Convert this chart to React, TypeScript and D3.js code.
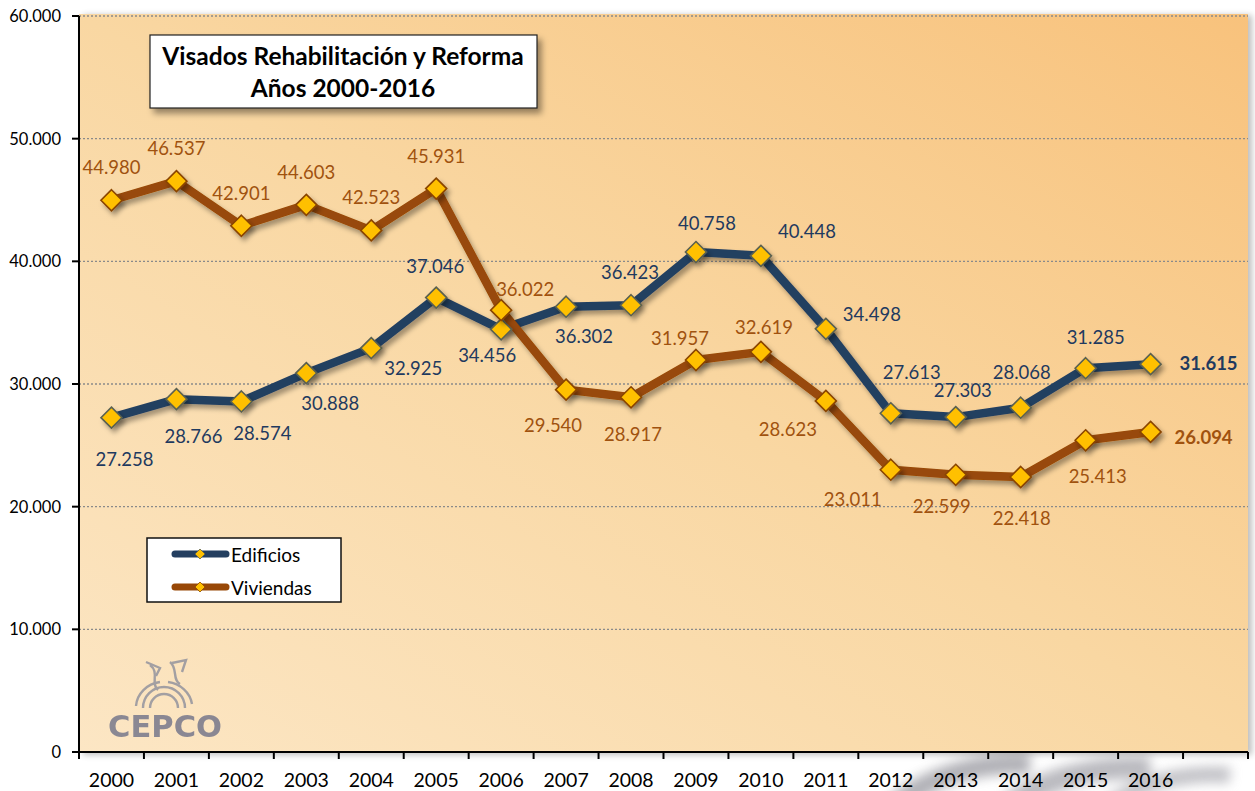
import React from "react";
import * as d3 from "d3";

const years = ["2000","2001","2002","2003","2004","2005","2006","2007","2008","2009","2010","2011","2012","2013","2014","2015","2016"];
const edificios = [27258,28766,28574,30888,32925,37046,34456,36302,36423,40758,40448,34498,27613,27303,28068,31285,31615];
const viviendas = [44980,46537,42901,44603,42523,45931,36022,29540,28917,31957,32619,28623,23011,22599,22418,25413,26094];
const yTicks = [0,10000,20000,30000,40000,50000,60000];
const seriesNames = ["Edificios","Viviendas"];

// label placement offsets (dx, dy) relative to each point
const edifLabelOffsets: [number, number][] = [
  [13,41],[17,37],[21,32],[24,30],[42,20],[-1,-32],[-14,26],[18,29],[-1,-33],[11,-29],[46,-25],[46,-15],[21,-41],[7,-27],[1,-36],[10,-31],[58,-1]
];
const vivLabelOffsets: [number, number][] = [
  [0,-33],[0,-33],[0,-33],[0,-33],[0,-33],[0,-33],[24,-21],[-13,35],[2,37],[-16,-22],[3,-25],[-38,28],[-38,29],[-14,31],[1,41],[12,36],[53,5]
];

const W = 1255, H = 791;
const M = { left: 79, right: 1248, top: 16, bottom: 752 };
const EDIF = "#243f60";
const VIV = "#984807";
const EDIF_TXT = "#1f3a5f";
const VIV_TXT = "#a0520f";
const FONT = "Lato, 'Open Sans', sans-serif";

const fmt = (v: number) => d3.format(",")(v).replace(/,/g, ".");

export default function App() {
  const x = d3.scaleBand<string>().domain([...years, ""]).range([M.left, M.right]).padding(0);
  const y = d3.scaleLinear().domain([0, 60000]).range([M.bottom, M.top]);
  const cx = (yr: string) => (x(yr) as number) + x.bandwidth() / 2;

  const line = d3.line<number>().x((_, i) => cx(years[i])).y((v) => y(v));
  const diamond = (px: number, py: number, r: number) =>
    `M${px},${py - r}L${px + r},${py}L${px},${py + r}L${px - r},${py}Z`;

  const series = [
    { name: seriesNames[0], data: edificios, color: EDIF, txt: EDIF_TXT, mstroke: "#5b6150", offs: edifLabelOffsets },
    { name: seriesNames[1], data: viviendas, color: VIV, txt: VIV_TXT, mstroke: "#8a4504", offs: vivLabelOffsets },
  ];

  const boundaries = [...years, ""].map((c) => x(c) as number).concat([M.right]);

  return (
    <svg width={W} height={H} style={{ position: "absolute", left: 0, top: 0, background: "#fff" }} fontFamily={FONT}>
      <defs>
        <linearGradient id="bg" x1="0" y1="1" x2="1" y2="0">
          <stop offset="0%" stopColor="#fce6c4" />
          <stop offset="50%" stopColor="#f9d7a2" />
          <stop offset="100%" stopColor="#f8c27c" />
        </linearGradient>
        <filter id="sh" x="-10%" y="-10%" width="120%" height="130%">
          <feDropShadow dx="3" dy="4" stdDeviation="2.5" floodColor="#000" floodOpacity="0.35" />
        </filter>
        <filter id="boxsh" x="-10%" y="-10%" width="130%" height="140%">
          <feDropShadow dx="4" dy="5" stdDeviation="3" floodColor="#000" floodOpacity="0.4" />
        </filter>
        <filter id="blur8" x="-50%" y="-50%" width="200%" height="200%"><feGaussianBlur stdDeviation="6" /></filter>
        <filter id="blur3"><feGaussianBlur stdDeviation="3" /></filter>
      </defs>

      {/* watermark-ish gray blur below axis */}
      <g filter="url(#blur8)" opacity="0.6">
        <path d="M895,805 C930,775 980,762 1030,764" stroke="#7d7d86" strokeWidth="20" fill="none" />
        <path d="M1010,805 C1045,778 1095,766 1150,768" stroke="#8c8c95" strokeWidth="22" fill="none" />
        <path d="M1110,805 C1140,782 1185,772 1230,775" stroke="#9a9aa2" strokeWidth="16" fill="none" />
      </g>

      {/* plot background */}
      <rect x={M.left + 4} y={M.top - 1} width={M.right - M.left} height={M.bottom - M.top + 4} fill="#000" opacity="0.25" filter="url(#blur3)" />
      <rect x={M.left} y={M.top - 2} width={M.right - M.left} height={M.bottom - M.top + 2} fill="url(#bg)" />

      {/* gridlines */}
      {yTicks.filter((t) => t > 0).map((t) => (
        <line key={t} x1={M.left} x2={M.right} y1={y(t)} y2={y(t)} stroke="#8a8a8a" strokeWidth={1.3} strokeDasharray="2,2" />
      ))}

      {/* CEPCO logo */}
      <g opacity="0.8">
        <g fill="none" stroke="#8d8f9c" strokeWidth="2.4">
          <path d="M150,708 A14,14 0 0 1 178,708" />
          <path d="M143,708 A21,21 0 0 1 185,708" />
          <path d="M136,706 A28,26 0 0 1 160,682" />
          <path d="M168,682 A28,26 0 0 1 192,704" />
          <path d="M150,665 C160,672 150,684 158,690" />
          <path d="M170,662 C178,668 172,680 180,684" />
          <path d="M146,662 L160,668 L156,676" />
          <path d="M172,663 L186,660 L182,672" />
        </g>
        <text x={165} y={737} textAnchor="middle" fontFamily="'DejaVu Sans', sans-serif" fontWeight="bold" fontSize={30} fill="#6e7188" textLength={114} lengthAdjust="spacingAndGlyphs">CEPCO</text>
      </g>

      {/* title box */}
      <rect x={150} y={35} width={387} height={73} fill="#fff" stroke="#222" strokeWidth={1.2} filter="url(#boxsh)" />
      <text x={343} y={65} textAnchor="middle" fontWeight="bold" fontSize={24.5} fill="#000">Visados Rehabilitación y Reforma</text>
      <text x={343} y={97} textAnchor="middle" fontWeight="bold" fontSize={24.5} fill="#000">Años 2000-2016</text>

      {/* series lines */}
      {series.map((s) => (
        <path key={s.name + "l"} d={line(s.data) as string} fill="none" stroke={s.color} strokeWidth={8.5} strokeLinejoin="round" strokeLinecap="round" filter="url(#sh)" />
      ))}
      {series.map((s) => (
        <g key={s.name + "m"} filter="url(#sh)">
          {s.data.map((v, i) => (
            <path key={i} d={diamond(cx(years[i]), y(v), 10.5)} fill="#ffc000" stroke={s.mstroke} strokeWidth={1.6} />
          ))}
        </g>
      ))}
      {series.map((s) => (
        <g key={s.name + "t"}>
          {s.data.map((v, i) => (
            <text key={i} x={cx(years[i]) + s.offs[i][0]} y={y(v) + s.offs[i][1]} textAnchor="middle" dominantBaseline="central"
              fontSize={18.5} fill={s.txt} fontWeight={i === s.data.length - 1 ? "bold" : "normal"}>
              {fmt(v)}
            </text>
          ))}
        </g>
      ))}

      {/* legend */}
      <rect x={147} y={538} width={194} height={64} fill="#fff" stroke="#111" strokeWidth={1.5} />
      {series.map((s, i) => (
        <g key={s.name + "lg"}>
          <line x1={175} x2={226} y1={554 + i * 33} y2={554 + i * 33} stroke={s.color} strokeWidth={7} strokeLinecap="round" />
          <path d={diamond(200, 554 + i * 33, 5)} fill="#ffc000" stroke={s.mstroke} strokeWidth={0.8} />
          <text x={231} y={554 + i * 33} dominantBaseline="central" fontSize={19} fill="#000">{s.name}</text>
        </g>
      ))}

      {/* y axis */}
      <line x1={M.left} x2={M.left} y1={M.top} y2={M.bottom} stroke="#000" strokeWidth={2} />
      {yTicks.map((t) => (
        <g key={t}>
          <line x1={M.left - 7} x2={M.left} y1={y(t)} y2={y(t)} stroke="#000" strokeWidth={2} />
          <text x={61} y={y(t)} textAnchor="end" dominantBaseline="central" fontSize={16.5} fill="#000">{fmt(t)}</text>
        </g>
      ))}

      {/* x axis */}
      <line x1={M.left} x2={M.right} y1={M.bottom} y2={M.bottom} stroke="#000" strokeWidth={2} />
      {boundaries.map((b, i) => (
        <line key={i} x1={b} x2={b} y1={M.bottom} y2={M.bottom + 7} stroke="#000" strokeWidth={2} />
      ))}
      {years.map((yr) => (
        <text key={yr} x={cx(yr)} y={779} textAnchor="middle" dominantBaseline="central" fontSize={19.5} fill="#000">{yr}</text>
      ))}
    </svg>
  );
}
